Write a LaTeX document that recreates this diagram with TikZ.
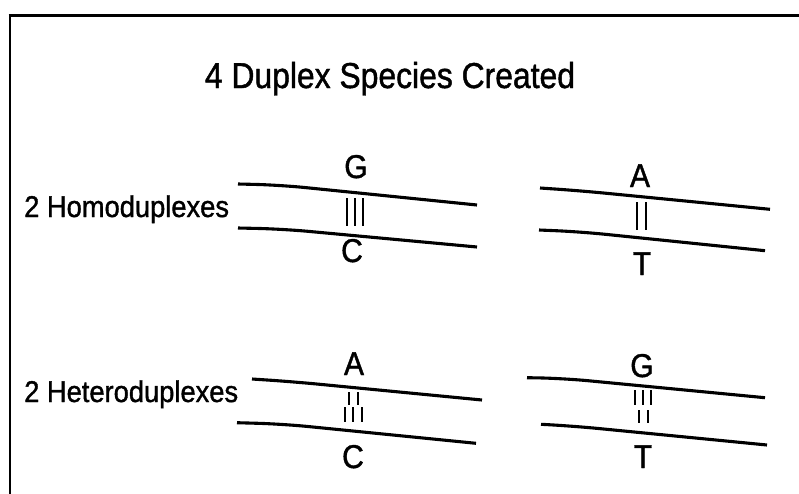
\documentclass[tikz,border=0pt]{standalone}
\usepackage{fontspec}
\setmainfont[FakeStretch=0.91,FakeBold=1.2]{Liberation Sans}
\newfontfamily\headfont[FakeStretch=0.885,FakeBold=1.2]{Liberation Sans}

\begin{document}
\begin{tikzpicture}[x=1pt,y=-1pt,
  strand/.style={line width=3.1pt, rounded corners=25pt},
  bond/.style={line width=1.7pt},
  basename/.style={anchor=base, inner sep=0pt, font=\fontsize{33}{33}\selectfont},
  sidelabel/.style={anchor=base west, inner sep=0pt, font=\fontsize{30}{30}\selectfont},
  heading/.style={anchor=base, inner sep=0pt, font=\headfont\fontsize{36}{36}\selectfont}]
\useasboundingbox (0,0) rectangle (799,493);

% frame edges (top and left)
\draw[line width=2.8pt] (8.6,15.4) -- (800,15.4);
\draw[line width=2pt] (10,14) -- (10,494);

% heading and row labels
\node[heading] (title) at (390,88) {4 Duplex Species Created};
\node[sidelabel] (homo) at (24,217) {2 Homoduplexes};
\node[sidelabel] (hetero) at (24,402) {2 Heteroduplexes};

% homoduplex G:C
\draw[strand] (238,184) -- (280,185) -- (477,205);
\draw[strand] (238,228) -- (283,229) -- (477,247);
\foreach \x in {347,355,363} \draw[bond] (\x,198) -- (\x,226);
\node[basename] (g1) at (356,178) {G};
\node[basename] (c1) at (352,262) {C};

% homoduplex A:T
\draw[strand] (540,188) -- (580,190.7) -- (770,209.3);
\draw[strand] (539,230) -- (580,231.7) -- (765,250.7);
\foreach \x in {637,646} \draw[bond] (\x,202) -- (\x,230);
\node[basename] (a1) at (640,187) {A};
\node[basename] (t1) at (642,275) {T};

% heteroduplex A:C
\draw[strand] (252,379) -- (293,381.7) -- (482,400);
\draw[strand] (237,422.7) -- (283,424) -- (476,443.3);
\foreach \x in {349,358} \draw[bond] (\x,392) -- (\x,405);
\foreach \x in {345,353,362} \draw[bond] (\x,407) -- (\x,422);
\node[basename] (a2) at (354,375) {A};
\node[basename] (c2) at (353,468) {C};

% heteroduplex G:T
\draw[strand] (527,377.7) -- (563,378.3) -- (765,397.7);
\draw[strand] (541,424.3) -- (573,426) -- (767,445);
\foreach \x in {635,643,651} \draw[bond] (\x,390) -- (\x,405);
\foreach \x in {639,648} \draw[bond] (\x,410) -- (\x,423);
\node[basename] (g2) at (642,377) {G};
\node[basename] (t2) at (643,468) {T};
\end{tikzpicture}
\end{document}
